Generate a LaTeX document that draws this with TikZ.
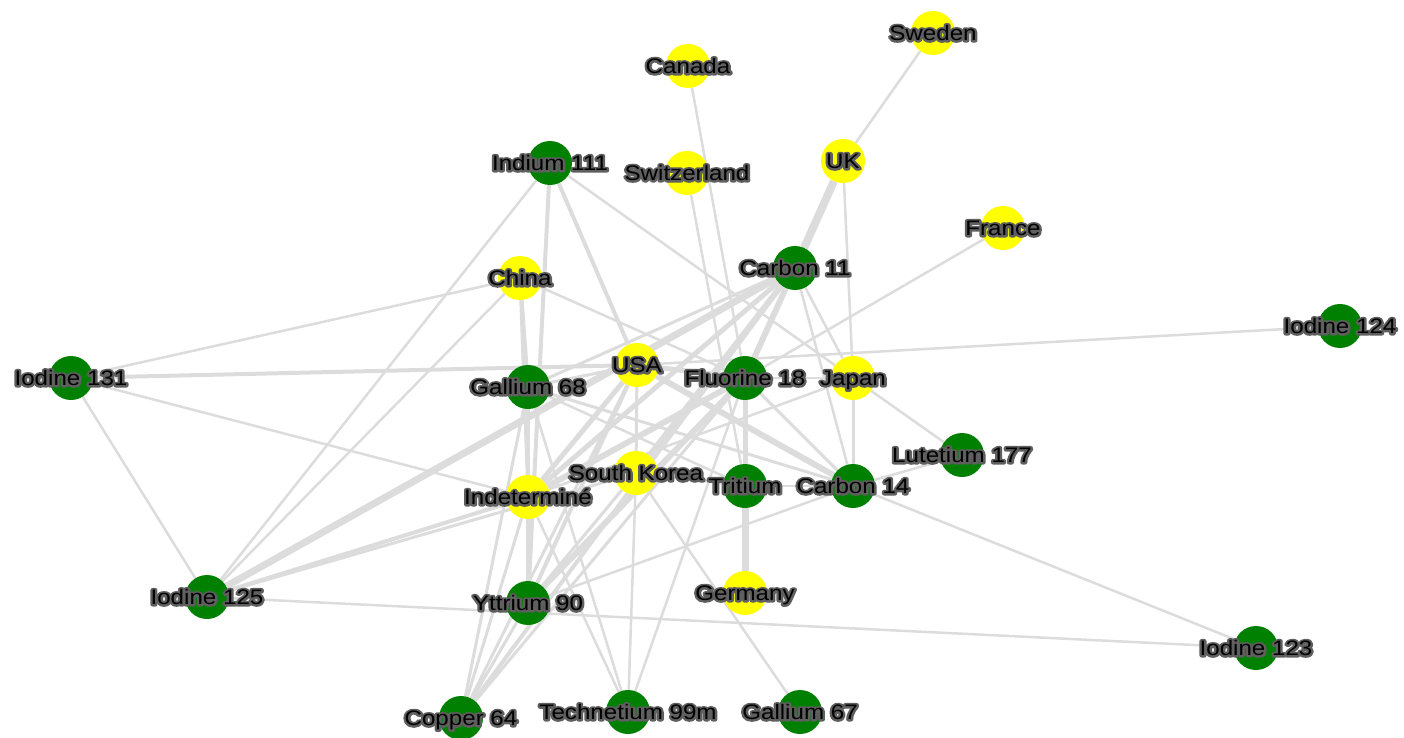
\documentclass[tikz,border=0pt]{standalone}
\usepackage{fontspec}
\setmainfont{Liberation Sans}
\usepackage{graphicx}
\usetikzlibrary{backgrounds}
\definecolor{edgegray}{RGB}{220,220,220}
\definecolor{nodegreen}{RGB}{0,128,0}
\definecolor{nodeyellow}{RGB}{255,255,0}
\definecolor{halo}{RGB}{95,95,95}
\newcommand{\halostart}{\special{pdf:literal direct 2 Tr 4.2 w 1 j}}
\newcommand{\haloend}{\special{pdf:literal direct 0 Tr}}
\newcommand{\lbltext}[1]{\scalebox{1.15}[1]{\rlap{\color{halo}\halostart#1\haloend}#1}}
\begin{document}
\begin{tikzpicture}[x=1pt,y=-1pt,
  iso/.style={circle, fill=nodegreen, minimum size=44pt, inner sep=0pt},
  land/.style={circle, fill=nodeyellow, minimum size=44pt, inner sep=0pt},
  lbl/.style={inner sep=0pt, anchor=base, font=\fontsize{21}{25}\selectfont},
  link/.style={draw=edgegray, line width=#1},
  link/.default=2.5pt]
\useasboundingbox (0,0) rectangle (1404,738);
% nodes
\node[land] (Sweden) at (933,33) {};
\node[land] (Canada) at (688,66) {};
\node[land] (Switzerland) at (687,173) {};
\node[land] (UK) at (843,161) {};
\node[iso] (Indium) at (550,163) {};
\node[land] (France) at (1003,228) {};
\node[land] (China) at (520,278) {};
\node[iso] (CarbonA) at (795,268) {};
\node[iso] (IodineD) at (1340,326) {};
\node[iso] (IodineA) at (71,378) {};
\node[iso] (GalliumA) at (528,387) {};
\node[land] (USA) at (637,365) {};
\node[iso] (Fluorine) at (745,378) {};
\node[land] (Japan) at (853,378) {};
\node[iso] (Lutetium) at (962,455) {};
\node[land] (Korea) at (636,473) {};
\node[iso] (Tritium) at (745,486) {};
\node[iso] (CarbonB) at (853,486) {};
\node[land] (Indet) at (528,497) {};
\node[iso] (IodineB) at (207,597) {};
\node[iso] (Yttrium) at (528,603) {};
\node[land] (Germany) at (745,593) {};
\node[iso] (IodineC) at (1256,648) {};
\node[iso] (Copper) at (461,718) {};
\node[iso] (Techne) at (628,712) {};
\node[iso] (GalliumB) at (800,712) {};
% edges
\begin{pgfonlayer}{background}
\draw[link] (Sweden) -- (UK);
\draw[link] (Canada) -- (Fluorine);
\draw[link] (Switzerland) -- (Tritium);
\draw[link=8pt] (UK) -- (CarbonA);
\draw[link] (UK) -- (Fluorine);
\draw[link] (UK) -- (Japan);
\draw[link] (France) -- (Fluorine);
\draw[link] (Indium) -- (IodineB);
\draw[link=4pt] (Indium) -- (Yttrium);
\draw[link=4pt] (Indium) -- (USA);
\draw[link] (Indium) -- (Japan);
\draw[link] (China) -- (IodineA);
\draw[link] (China) -- (IodineB);
\draw[link] (China) -- (Fluorine);
\draw[link=3pt] (China) -- (Indet);
\draw[link=4pt] (China) -- (GalliumA);
\draw[link=4pt] (IodineA) -- (USA);
\draw[link] (IodineA) -- (Indet);
\draw[link] (IodineA) -- (IodineB);
\draw[link] (USA) -- (IodineD);
\draw[link=7pt] (IodineB) -- (CarbonA);
\draw[link=4pt] (IodineB) -- (Indet);
\draw[link=3pt] (IodineB) -- (Korea);
\draw[link] (IodineB) -- (IodineC);
\draw[link=6pt] (CarbonA) -- (Fluorine);
\draw[link] (CarbonA) -- (CarbonB);
\draw[link] (CarbonA) -- (Japan);
\draw[link=6pt] (CarbonA) -- (Korea);
\draw[link=5pt] (CarbonA) -- (Indet);
\draw[link=3pt] (CarbonA) -- (GalliumA);
\draw[link=4pt] (CarbonA) -- (Copper);
\draw[link=5pt] (Fluorine) -- (Tritium);
\draw[link=6pt] (Fluorine) -- (Indet);
\draw[link=6pt] (Fluorine) -- (Yttrium);
\draw[link=3pt] (Fluorine) -- (Copper);
\draw[link] (Fluorine) -- (Techne);
\draw[link=3pt] (Fluorine) -- (CarbonB);
\draw[link] (Fluorine) -- (Japan);
\draw[link=6pt] (USA) -- (CarbonB);
\draw[link=5pt] (USA) -- (Indet);
\draw[link=4pt] (USA) -- (Yttrium);
\draw[link=3pt] (USA) -- (Copper);
\draw[link=5pt] (USA) -- (Fluorine);
\draw[link=3pt] (USA) -- (GalliumA);
\draw[link=3pt] (USA) -- (Korea);
\draw[link=7pt] (Tritium) -- (Germany);
\draw[link] (Tritium) -- (CarbonB);
\draw[link] (Korea) -- (Tritium);
\draw[link] (Korea) -- (GalliumB);
\draw[link] (Korea) -- (Techne);
\draw[link=3pt] (Korea) -- (Yttrium);
\draw[link] (CarbonB) -- (Yttrium);
\draw[link] (CarbonB) -- (Lutetium);
\draw[link] (CarbonB) -- (IodineC);
\draw[link=3pt] (CarbonB) -- (Japan);
\draw[link] (Japan) -- (Lutetium);
\draw[link] (Japan) -- (Indet);
\draw[link=4pt] (GalliumA) -- (Indet);
\draw[link=4pt] (GalliumA) -- (Yttrium);
\draw[link=3pt] (GalliumA) -- (Copper);
\draw[link] (GalliumA) -- (Techne);
\draw[link] (GalliumA) -- (Tritium);
\draw[link=3pt] (GalliumA) -- (CarbonB);
\draw[link=4pt] (Indet) -- (Yttrium);
\draw[link=3pt] (Indet) -- (Copper);
\draw[link] (Indet) -- (Techne);
\draw[link=3pt] (Yttrium) -- (Copper);
\end{pgfonlayer}
% labels
\node[lbl] (lSweden) at ([yshift=-7.5pt]Sweden.center) {\lbltext{Sweden}};
\node[lbl] (lCanada) at ([yshift=-7.5pt]Canada.center) {\lbltext{Canada}};
\node[lbl] (lSwitzerland) at ([yshift=-7.5pt]Switzerland.center) {\lbltext{Switzerland}};
\node[lbl] (lUK) at ([yshift=-7.5pt]UK.center) {\lbltext{UK}};
\node[lbl] (lIndium) at ([yshift=-7.5pt]Indium.center) {\lbltext{Indium 111}};
\node[lbl] (lFrance) at ([yshift=-7.5pt]France.center) {\lbltext{France}};
\node[lbl] (lChina) at ([yshift=-7.5pt]China.center) {\lbltext{China}};
\node[lbl] (lCarbonA) at ([yshift=-7.5pt]CarbonA.center) {\lbltext{Carbon 11}};
\node[lbl] (lIodineD) at ([yshift=-7.5pt]IodineD.center) {\lbltext{Iodine 124}};
\node[lbl] (lIodineA) at ([yshift=-7.5pt]IodineA.center) {\lbltext{Iodine 131}};
\node[lbl] (lGalliumA) at ([yshift=-7.5pt]GalliumA.center) {\lbltext{Gallium 68}};
\node[lbl] (lUSA) at ([yshift=-7.5pt]USA.center) {\lbltext{USA}};
\node[lbl] (lFluorine) at ([yshift=-7.5pt]Fluorine.center) {\lbltext{Fluorine 18}};
\node[lbl] (lJapan) at ([yshift=-7.5pt]Japan.center) {\lbltext{Japan}};
\node[lbl] (lLutetium) at ([yshift=-7.5pt]Lutetium.center) {\lbltext{Lutetium 177}};
\node[lbl] (lKorea) at ([yshift=-7.5pt]Korea.center) {\lbltext{South Korea}};
\node[lbl] (lTritium) at ([yshift=-7.5pt]Tritium.center) {\lbltext{Tritium}};
\node[lbl] (lCarbonB) at ([yshift=-7.5pt]CarbonB.center) {\lbltext{Carbon 14}};
\node[lbl] (lIndet) at ([yshift=-7.5pt]Indet.center) {\lbltext{Indeterminé}};
\node[lbl] (lIodineB) at ([yshift=-7.5pt]IodineB.center) {\lbltext{Iodine 125}};
\node[lbl] (lYttrium) at ([yshift=-7.5pt]Yttrium.center) {\lbltext{Yttrium 90}};
\node[lbl] (lGermany) at ([yshift=-7.5pt]Germany.center) {\lbltext{Germany}};
\node[lbl] (lIodineC) at ([yshift=-7.5pt]IodineC.center) {\lbltext{Iodine 123}};
\node[lbl] (lCopper) at ([yshift=-7.5pt]Copper.center) {\lbltext{Copper 64}};
\node[lbl] (lTechne) at ([yshift=-7.5pt]Techne.center) {\lbltext{Technetium 99m}};
\node[lbl] (lGalliumB) at ([yshift=-7.5pt]GalliumB.center) {\lbltext{Gallium 67}};
\end{tikzpicture}
\end{document}
